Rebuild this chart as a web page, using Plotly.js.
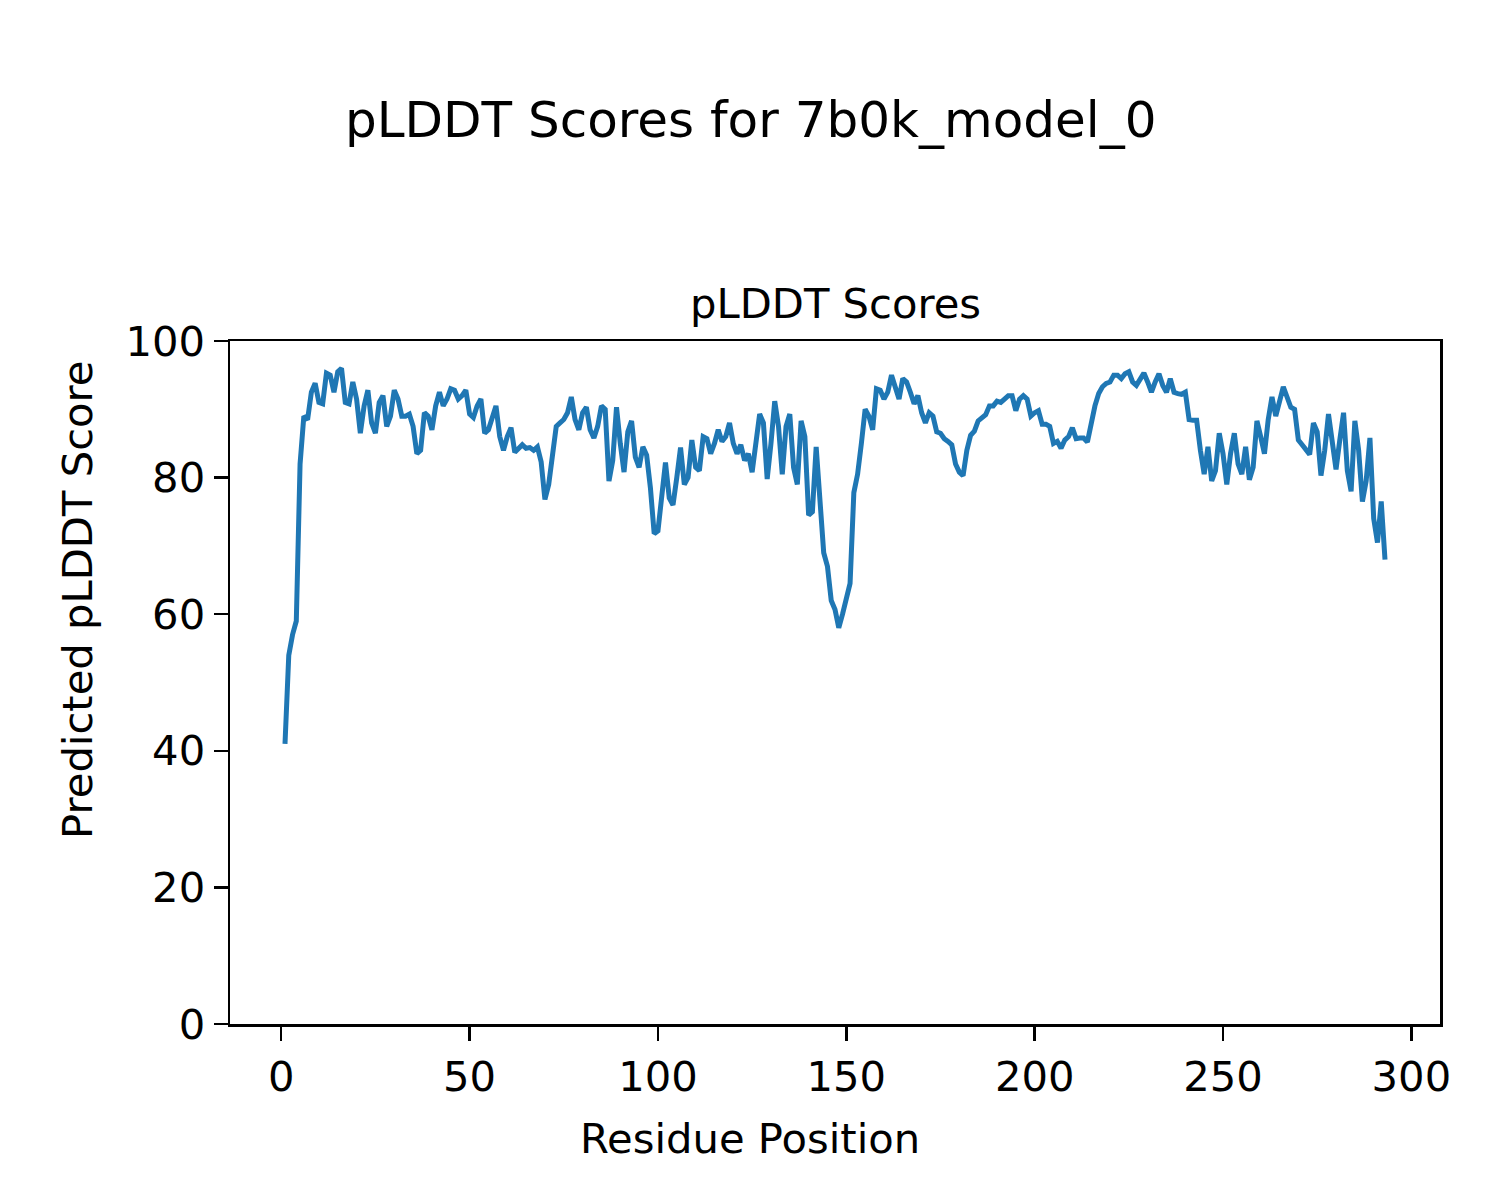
<!DOCTYPE html>
<html>
<head>
<meta charset="utf-8">
<script src="https://cdn.plot.ly/plotly-3.0.1.min.js"></script>
<style>html,body{margin:0;padding:0;background:#fff;}#chart{width:1500px;height:1200px;}</style>
</head>
<body>
<div id="chart"></div>
<script>
const chartTitle = "pLDDT Scores for 7b0k_model_0";
const axesTitle = "pLDDT Scores";
const xLabel = "Residue Position";
const yLabel = "Predicted pLDDT Score";
const xTicks = [0, 50, 100, 150, 200, 250, 300];
const yTicks = [0, 20, 40, 60, 80, 100];

const plddt = [
41, 54, 57, 59, 82, 89, 88.5, 92.5, 93.8, 91,
90.8, 95.3, 95, 92.5, 95.5, 96, 91, 90.8, 94, 91.5,
86.5, 90.5, 92.8, 88, 86.5, 91, 92, 87.5, 89, 92.8,
91.5, 89, 89, 89.3, 87.5, 83.5, 84, 89.5, 89, 87,
90.5, 92.5, 90.5, 91.5, 93, 92.8, 91.5, 92, 92.8, 89.3,
88.8, 90.5, 91.5, 86.5, 87, 88.5, 90.5, 86, 84, 86,
87.3, 83.7, 84.2, 84.8, 84.3, 84.4, 84, 84.5, 82.3, 76.8,
79, 83.5, 87.5, 88, 88.5, 89.5, 91.8, 88.5, 87, 89.5,
90.3, 87, 85.8, 87.5, 90.5, 90, 79.5, 82.5, 90.3, 85,
80.8, 86.7, 88.3, 83, 81.5, 84.5, 83.3, 78.5, 71.8, 72.2,
77, 82.2, 77, 76, 80, 84.4, 79, 80, 85.5, 81.5,
81, 86, 85.7, 83.5, 85, 87, 85.3, 86, 88, 85,
83.5, 84.8, 82.5, 83.5, 80.8, 84.5, 89.3, 88, 79.8, 85,
91.2, 87.5, 80.5, 87.5, 89.3, 81.5, 79, 88.3, 86, 74.5,
75, 84.5, 76, 69, 67, 62, 60.7, 58, 60, 62.5,
64.5, 77.8, 80.5, 85, 90, 89, 87, 93, 92.8, 91.5,
92.5, 95, 93.5, 91.5, 94.5, 94, 92.5, 90.8, 92, 89.5,
88, 89.5, 89, 86.7, 86.5, 85.7, 85.3, 84.8, 82, 80.8,
80.3, 84, 86.2, 86.8, 88.3, 88.7, 89.2, 90.5, 90.5, 91.2,
91, 91.5, 92, 92, 89.8, 91.5, 92, 91.5, 89, 89.5,
89.8, 87.8, 87.8, 87.5, 85, 85.3, 84.3, 85.5, 86, 87.3,
85.7, 85.8, 85.8, 85.2, 88, 90.5, 92.3, 93.3, 93.8, 94,
95, 95, 94.5, 95.2, 95.5, 94, 93.5, 94.3, 95.3, 94,
92.5, 94, 95.2, 93.5, 92.5, 94.5, 92.5, 92.3, 92.2, 92.5,
88.5, 88.4, 88.4, 84, 80.5, 84.5, 79.5, 81, 86.5, 83.5,
79, 83.5, 86.5, 82, 80.5, 84.5, 79.7, 81.5, 88.3, 86,
83.5, 88.5, 91.8, 89, 91.3, 93.3, 91.8, 90.3, 90, 85.5,
84.8, 84, 83.4, 88, 86.7, 80.3, 84, 89.3, 84.5, 81.2,
85.5, 89.5, 81, 78, 88.3, 84, 76.5, 79.5, 85.8, 74,
70.5, 76.5, 68
];
const residues = plddt.map((v, i) => i + 1);

const font = "DejaVu Sans, sans-serif";
const xmin = residues[0], xmax = residues[residues.length - 1];
const pad = 0.05 * (xmax - xmin);

const trace = {
  x: residues, y: plddt, type: "scatter", mode: "lines",
  line: {color: "#1f77b4", width: 5}, hoverinfo: "skip"
};

const axisCommon = {
  showgrid: false, zeroline: false, showline: true, mirror: true,
  linecolor: "#000", linewidth: 2.5, ticks: "outside", ticklen: 14, tickwidth: 2.5,
  tickcolor: "#000", tickfont: {family: font, size: 41.7, color: "#000"}
};

const layout = {
  width: 1500, height: 1200,
  paper_bgcolor: "#fff", plot_bgcolor: "#fff",
  margin: {l: 230, r: 60, t: 341, b: 176},
  showlegend: false,
  xaxis: Object.assign({}, axisCommon, {range: [xmin - pad, xmax + pad], tickvals: xTicks, ticktext: xTicks.map(String)}),
  yaxis: Object.assign({}, axisCommon, {range: [0, 100], tickvals: yTicks, ticktext: yTicks.map(String)}),
  annotations: [
    {text: chartTitle, xref: "paper", yref: "paper", x: 0.43, y: 1.3236, xanchor: "center", yanchor: "middle", showarrow: false, font: {family: font, size: 50, color: "#000"}},
    {text: axesTitle, xref: "paper", yref: "paper", x: 0.5, y: 1.0556, xanchor: "center", yanchor: "middle", showarrow: false, font: {family: font, size: 41.7, color: "#000"}},
    {text: xLabel, xref: "paper", yref: "paper", x: 0.43, y: -0.167, xanchor: "center", yanchor: "middle", showarrow: false, font: {family: font, size: 41.7, color: "#000"}},
    {text: yLabel, xref: "paper", yref: "paper", x: -0.1256, y: 0.621, xanchor: "center", yanchor: "middle", textangle: -90, showarrow: false, font: {family: font, size: 41.7, color: "#000"}}
  ]
};

Plotly.newPlot("chart", [trace], layout, {staticPlot: true, displayModeBar: false});
</script>
</body>
</html>
